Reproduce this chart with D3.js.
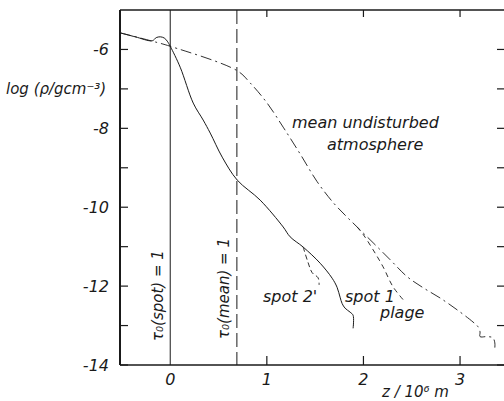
<!DOCTYPE html>
<html>
<head>
<meta charset="utf-8">
<script src="https://cdn.jsdelivr.net/npm/d3@7"></script>
<style>
  body { margin: 0; background: #fff; }
  text { font-family: "DejaVu Sans", sans-serif; font-style: italic; fill: #1a1a1a; }
</style>
</head>
<body>
<script>
// chart data
var spotZ      = [-0.517, -0.362, -0.186, -0.145, -0.103, -0.062, -0.031, 0, 0.103, 0.238, 0.341, 0.414, 0.538, 0.693, 0.931, 1.169, 1.241, 1.376, 1.552, 1.676, 1.727, 1.758, 1.779, 1.81, 1.862, 1.893, 1.893];
var spotLogRho = [-5.58, -5.68, -5.78, -5.70, -5.68, -5.71, -5.79, -5.92, -6.45, -7.36, -7.79, -8.12, -8.73, -9.31, -9.82, -10.50, -10.75, -11.01, -11.42, -11.80, -12.03, -12.28, -12.44, -12.56, -12.66, -12.74, -13.07];

var meanZ      = [-0.517, -0.186, 0, 0.693, 0.828, 1.003, 1.169, 1.345, 1.52, 1.686, 1.81, 1.934, 2.10, 2.276, 2.452, 2.617, 2.793, 2.969, 3.134, 3.186, 3.207, 3.207, 3.28, 3.34, 3.36, 3.36];
var meanLogRho = [-5.58, -5.79, -5.92, -6.54, -6.85, -7.36, -7.97, -8.65, -9.35, -9.88, -10.20, -10.50, -10.90, -11.33, -11.76, -12.04, -12.30, -12.60, -12.91, -13.03, -13.16, -13.28, -13.28, -13.31, -13.44, -13.56];

var plageZ      = [1.934, 2.00, 2.10, 2.203, 2.307, 2.431];
var plageLogRho = [-10.50, -10.70, -11.08, -11.51, -12.02, -12.40];

var spot2Z      = [1.376, 1.428, 1.469, 1.531, 1.541];
var spot2LogRho = [-11.01, -11.41, -11.66, -11.79, -11.97];

var tauSpotZ = 0;
var tauMeanZ = 0.69;

var xTicks = [0, 1, 2, 3];
var yTicks = [-14, -13, -12, -11, -10, -9, -8, -7, -6];
var yTickLabels = [-6, -8, -10, -12, -14];

// layout
var width = 504, height = 401;
var plotL = 120, plotR = 504, plotT = 10, plotB = 365;

var x = d3.scaleLinear().domain([-0.52, 3.455]).range([plotL, plotR]);
var y = d3.scaleLinear().domain([-14, -5]).range([plotB, plotT]);

var svg = d3.select("body").append("svg")
    .attr("width", width)
    .attr("height", height);

var ink = "#1a1a1a";

// frame
svg.append("line").attr("x1", plotL).attr("y1", plotT).attr("x2", plotL).attr("y2", plotB)
    .attr("stroke", ink).attr("stroke-width", 2);
svg.append("line").attr("x1", plotL).attr("y1", plotB).attr("x2", plotR).attr("y2", plotB)
    .attr("stroke", ink).attr("stroke-width", 1.5);
svg.append("line").attr("x1", plotL).attr("y1", plotT).attr("x2", plotR).attr("y2", plotT)
    .attr("stroke", ink).attr("stroke-width", 1.3);

// ticks pointing inward
svg.selectAll(".ytl").data(yTicks).enter().append("line")
    .attr("x1", plotL).attr("x2", plotL + 8)
    .attr("y1", function(d){ return y(d); }).attr("y2", function(d){ return y(d); })
    .attr("stroke", ink).attr("stroke-width", 1.2);
svg.selectAll(".ytr").data(yTicks).enter().append("line")
    .attr("x1", plotR).attr("x2", plotR - 7)
    .attr("y1", function(d){ return y(d); }).attr("y2", function(d){ return y(d); })
    .attr("stroke", ink).attr("stroke-width", 1.2);
svg.selectAll(".xtb").data(xTicks.slice(1)).enter().append("line")
    .attr("x1", function(d){ return x(d); }).attr("x2", function(d){ return x(d); })
    .attr("y1", plotB).attr("y2", plotB - 9)
    .attr("stroke", ink).attr("stroke-width", 1.2);
svg.selectAll(".xtt").data(xTicks.slice(1)).enter().append("line")
    .attr("x1", function(d){ return x(d); }).attr("x2", function(d){ return x(d); })
    .attr("y1", plotT).attr("y2", plotT + 7)
    .attr("stroke", ink).attr("stroke-width", 1.2);

// tick labels
svg.selectAll(".ylab").data(yTickLabels).enter().append("text")
    .attr("x", 109).attr("y", function(d){ return y(d); })
    .attr("dy", "0.36em")
    .attr("text-anchor", "end")
    .style("font-size", "16px")
    .text(function(d){ return "-" + Math.abs(d); });
svg.selectAll(".xlab").data(xTicks).enter().append("text")
    .attr("x", function(d){ return x(d); }).attr("y", 385)
    .attr("text-anchor", "middle")
    .style("font-size", "16px")
    .text(function(d){ return d; });

// axis titles
svg.append("text").attr("x", 6).attr("y", 94)
    .style("font-size", "15px")
    .text("log (\u03c1/gcm\u207b\u00b3)");
svg.append("text").attr("x", 382).attr("y", 397)
    .style("font-size", "15px")
    .text("z / 10\u2076 m");

// tau = 1 verticals
svg.append("line").attr("x1", x(tauSpotZ)).attr("x2", x(tauSpotZ))
    .attr("y1", plotT).attr("y2", plotB)
    .attr("stroke", ink).attr("stroke-width", 1);
svg.append("line").attr("x1", x(tauMeanZ)).attr("x2", x(tauMeanZ))
    .attr("y1", plotT).attr("y2", plotB)
    .attr("stroke", ink).attr("stroke-width", 1)
    .attr("stroke-dasharray", "14,5");

svg.append("text")
    .attr("transform", "translate(" + (x(tauSpotZ) - 7) + ",341) rotate(-90)")
    .style("font-size", "15px")
    .text("\u03c4\u2080(spot) = 1");
svg.append("text")
    .attr("transform", "translate(" + (x(tauMeanZ) - 8) + ",339) rotate(-90)")
    .style("font-size", "15px")
    .text("\u03c4\u2080(mean) = 1");

// curves
function pts(zs, vs) {
    return zs.map(function(z, i){ return [z, vs[i]]; });
}
var line = d3.line()
    .x(function(d){ return x(d[0]); })
    .y(function(d){ return y(d[1]); })
    .curve(d3.curveCatmullRom.alpha(0.5));

svg.append("path").datum(pts(meanZ, meanLogRho))
    .attr("d", line).attr("fill", "none")
    .attr("stroke", ink).attr("stroke-width", 0.9)
    .attr("stroke-dasharray", "11,4,2,4");
svg.append("path").datum(pts(plageZ, plageLogRho))
    .attr("d", line).attr("fill", "none")
    .attr("stroke", ink).attr("stroke-width", 0.9)
    .attr("stroke-dasharray", "5,4");
svg.append("path").datum(pts(spot2Z, spot2LogRho))
    .attr("d", line).attr("fill", "none")
    .attr("stroke", ink).attr("stroke-width", 0.9)
    .attr("stroke-dasharray", "5,3");
svg.append("path").datum(pts(spotZ, spotLogRho))
    .attr("d", line).attr("fill", "none")
    .attr("stroke", ink).attr("stroke-width", 1);

// curve labels
var labels = [
    {t: "mean undisturbed", x: 292, y: 128},
    {t: "atmosphere", x: 327, y: 150},
    {t: "spot 2'", x: 263, y: 302},
    {t: "spot 1", x: 345, y: 302},
    {t: "plage", x: 380, y: 318}
];
svg.selectAll(".clab").data(labels).enter().append("text")
    .attr("x", function(d){ return d.x; })
    .attr("y", function(d){ return d.y; })
    .style("font-size", "16px")
    .text(function(d){ return d.t; });
</script>
</body>
</html>
